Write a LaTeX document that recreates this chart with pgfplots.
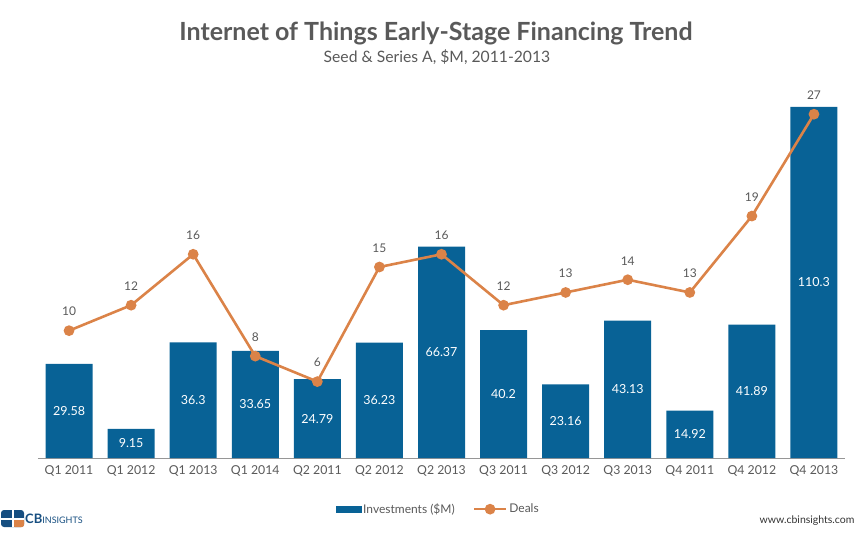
\documentclass[border=0pt]{standalone}
\usepackage{pgfplots}
\pgfplotsset{compat=1.18}
\usepackage{pgfplotstable}
\usepackage{fontspec}
\setmainfont{Lato}

\definecolor{barblue}{RGB}{8,98,150}
\definecolor{dealorange}{RGB}{219,131,72}
\definecolor{txtgray}{RGB}{89,89,89}
\definecolor{axisgray}{RGB}{150,150,150}
\definecolor{logoblue}{RGB}{22,78,128}

\pgfplotstableread{
x inv deals
0 29.58 10
1 9.15 12
2 36.3 16
3 33.65 8
4 24.79 6
5 36.23 15
6 66.37 16
7 40.2 12
8 23.16 13
9 43.13 14
10 14.92 13
11 41.89 19
12 110.3 27
}\iotdata

\begin{document}
\begin{tikzpicture}
\path[use as bounding box] (0pt,0pt) rectangle (868pt,536pt);

% titles
\node[font=\fontsize{25}{29}\selectfont\bfseries, text=txtgray] at (436pt,503pt)
  {Internet of Things Early-Stage Financing Trend};
\node[font=\fontsize{15.7}{18}\selectfont, text=txtgray] at (437pt,479pt)
  {Seed \& Series A, \$M, 2011-2013};

% bars
\begin{axis}[
  at={(38pt,78pt)}, anchor=south west,
  scale only axis, width=807pt, height=382pt,
  xmin=-0.5, xmax=12.5, ymin=0, ymax=120,
  axis y line=none,
  axis x line*=bottom,
  x axis line style={draw=axisgray, line width=0.8pt, -},
  xtick={0,...,12},
  xticklabels={Q1 2011,Q1 2012,Q1 2013,Q1 2014,Q2 2011,Q2 2012,Q2 2013,Q3 2011,Q3 2012,Q3 2013,Q4 2011,Q4 2012,Q4 2013},
  major tick length=0pt,
  xticklabel style={font=\fontsize{12.3}{14}\selectfont, text=txtgray, yshift=-4pt},
  bar width=47pt,
  clip=false,
]
\addplot[ybar, fill=barblue, draw=none] table[x=x, y=inv] {\iotdata};
% value labels in the middle of each bar
\addplot[draw=none, mark=none, nodes near coords, point meta=explicit symbolic,
  nodes near coords style={text=white, anchor=center, font=\fontsize{12.5}{14}\selectfont}]
  table[x=x, y expr=\thisrow{inv}/2, meta=inv] {\iotdata};
\end{axis}

% deals line
\begin{axis}[
  at={(38pt,78pt)}, anchor=south west,
  scale only axis, width=807pt, height=382pt,
  xmin=-0.5, xmax=12.5, ymin=0, ymax=30,
  hide axis,
  clip=false,
  legend columns=2,
  legend style={at={(0.496,-0.134)}, anchor=center, draw=none, fill=none,
    font=\fontsize{12}{14}\selectfont, text=txtgray,
    /tikz/every even column/.append style={column sep=16pt}},
  legend cell align=left,
]
\addlegendimage{legend image code/.code={\fill[barblue] (0pt,-3pt) rectangle (25pt,3pt);}}
\addlegendentry{Investments (\$M)}
\addplot[dealorange, line width=2.6pt, mark=*, mark size=4pt,
  mark options={fill=dealorange, draw=none},
  nodes near coords, point meta=explicit symbolic,
  nodes near coords style={text=txtgray, anchor=center, yshift=19pt, font=\fontsize{12}{14}\selectfont},
  legend image code/.code={\draw[dealorange, line width=2.6pt] (0pt,0pt) -- (32pt,0pt);
    \fill[dealorange] (16pt,0pt) circle (4pt);}]
  table[x=x, y=deals, meta=deals] {\iotdata};
\addlegendentry{Deals}
\end{axis}

% logo
\fill[logoblue, rounded corners=3pt] (1pt,9pt) rectangle (24pt,26pt);
\fill[dealorange, rounded corners=2pt] (13pt,9pt) rectangle (24pt,17pt);
\fill[white] (11.5pt,9pt) rectangle (13.5pt,26pt);
\fill[white] (1pt,16.5pt) rectangle (24pt,18pt);
\node[anchor=west, inner sep=0pt, text=logoblue] at (25pt,17.5pt)
  {\fontsize{13}{14}\selectfont\bfseries CB\fontsize{9}{10}\selectfont\mdseries INSIGHTS};

\node[font=\fontsize{10.5}{12}\selectfont, text=black!80] at (807pt,15pt) {www.cbinsights.com};
\end{tikzpicture}
\end{document}
